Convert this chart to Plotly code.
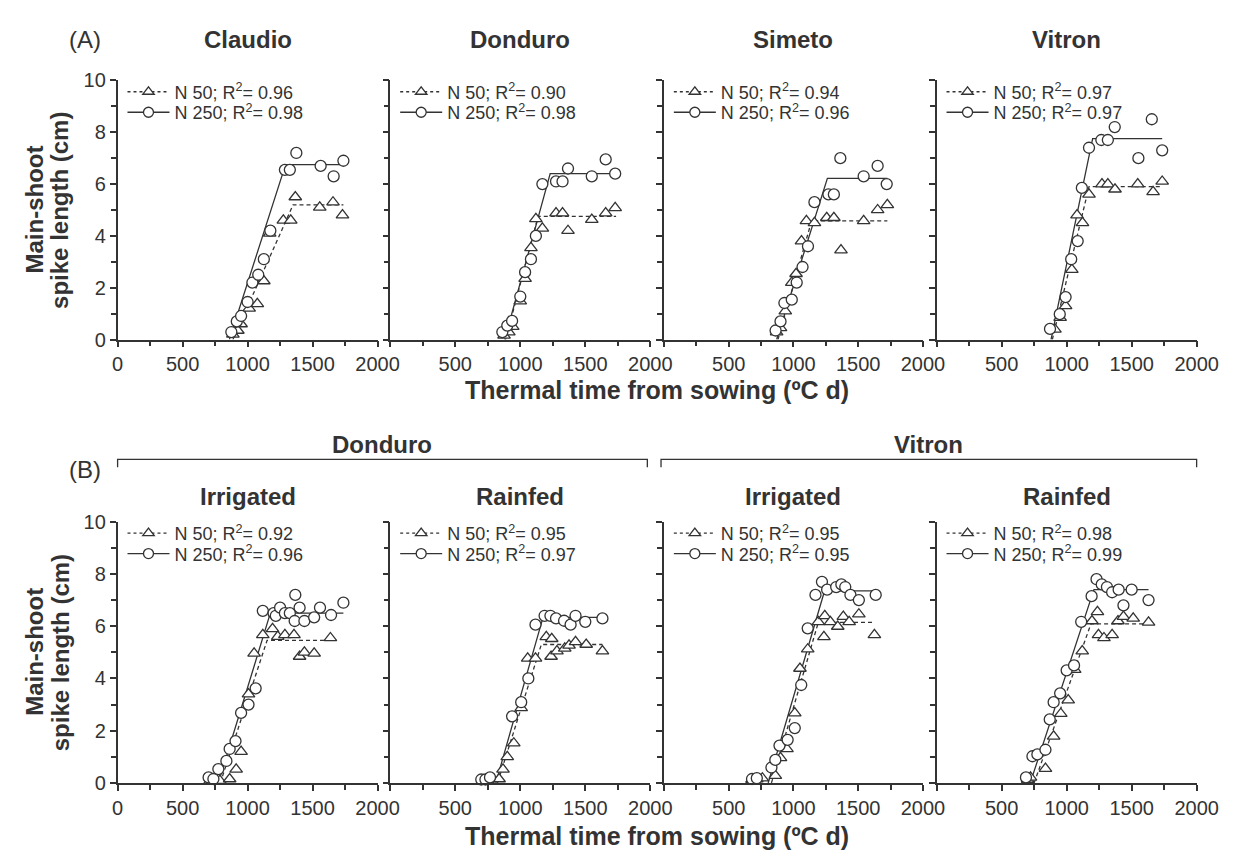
import plotly.graph_objects as go

# ---------------- data ----------------
panel_titles = ["Claudio", "Donduro", "Simeto", "Vitron",
                "Irrigated", "Rainfed", "Irrigated", "Rainfed"]
group_titles = ["Donduro", "Vitron"]
r2_n50 = ["0.96", "0.90", "0.94", "0.97", "0.92", "0.95", "0.95", "0.98"]
r2_n250 = ["0.98", "0.98", "0.96", "0.97", "0.96", "0.97", "0.95", "0.99"]
x_ticks = [0, 500, 1000, 1500, 2000]
y_ticks = [0, 2, 4, 6, 8, 10]

# (A) Claudio
claudio_n250_x = [875, 917, 950, 1000, 1037, 1082, 1125, 1175, 1287, 1325, 1375, 1562, 1662, 1737]
claudio_n250_y = [0.29, 0.70, 0.91, 1.45, 2.2, 2.5, 3.1, 4.2, 6.55, 6.55, 7.2, 6.7, 6.3, 6.9]
claudio_n50_x = [887, 925, 950, 1012, 1075, 1125, 1170, 1275, 1332, 1367, 1555, 1657, 1730]
claudio_n50_y = [0.2, 0.35, 0.6, 1.2, 1.38, 2.26, 4.1, 4.6, 4.6, 5.5, 5.1, 5.3, 4.8]
claudio_fit250_x = [860, 1292, 1737]
claudio_fit250_y = [0, 6.75, 6.75]
claudio_fit50_x = [887, 1350, 1737]
claudio_fit50_y = [0, 5.2, 5.2]

# (A) Donduro
donduro_n250_x = [862, 900, 937, 1000, 1037, 1082, 1120, 1170, 1275, 1325, 1367, 1550, 1657, 1730]
donduro_n250_y = [0.29, 0.54, 0.72, 1.66, 2.6, 3.1, 4.0, 6.0, 6.1, 6.1, 6.6, 6.3, 6.95, 6.4]
donduro_n50_x = [875, 912, 942, 1000, 1037, 1082, 1120, 1170, 1275, 1325, 1367, 1550, 1657, 1730]
donduro_n50_y = [0.16, 0.29, 0.5, 1.48, 2.35, 3.54, 4.66, 4.29, 4.88, 4.88, 4.2, 4.63, 4.88, 5.08]
donduro_fit250_x = [880, 1230, 1737]
donduro_fit250_y = [0, 6.4, 6.4]
donduro_fit50_x = [887, 1137, 1737]
donduro_fit50_y = [0, 4.75, 4.75]

# (A) Simeto
simeto_n250_x = [862, 900, 930, 987, 1025, 1070, 1112, 1162, 1270, 1312, 1362, 1542, 1650, 1720]
simeto_n250_y = [0.35, 0.7, 1.41, 1.54, 2.2, 2.8, 3.6, 5.3, 5.6, 5.6, 7.0, 6.3, 6.7, 6.0]
simeto_n50_x = [870, 900, 937, 987, 1020, 1062, 1100, 1162, 1257, 1312, 1367, 1542, 1650, 1725]
simeto_n50_y = [0.29, 0.45, 1.1, 2.2, 2.54, 3.8, 4.58, 4.5, 4.7, 4.7, 3.45, 4.58, 5.0, 5.2]
simeto_fit250_x = [870, 1262, 1725]
simeto_fit250_y = [0, 6.22, 6.22]
simeto_fit50_x = [880, 1140, 1725]
simeto_fit50_y = [0, 4.58, 4.58]

# (A) Vitron
vitron_n250_x = [872, 947, 992, 1035, 1085, 1117, 1172, 1267, 1317, 1370, 1552, 1655, 1735]
vitron_n250_y = [0.41, 0.98, 1.64, 3.1, 3.8, 5.85, 7.4, 7.7, 7.7, 8.2, 7.0, 8.5, 7.3]
vitron_n50_x = [910, 950, 992, 1040, 1080, 1122, 1172, 1272, 1317, 1372, 1547, 1665, 1735]
vitron_n50_y = [0.39, 0.85, 1.3, 2.7, 4.8, 4.5, 5.6, 6.0, 6.0, 5.8, 6.0, 5.7, 6.1]
vitron_fit250_x = [880, 1200, 1735]
vitron_fit250_y = [0, 7.75, 7.75]
vitron_fit50_x = [890, 1172, 1735]
vitron_fit50_y = [0, 5.9, 5.9]

# (B) Donduro irrigated
don_irr_n250_x = [700, 737, 775, 837, 862, 907, 950, 1007, 1062, 1117, 1200, 1217, 1250, 1287,
                  1325, 1362, 1367, 1400, 1437, 1512, 1557, 1642, 1737]
don_irr_n250_y = [0.21, 0.15, 0.53, 0.84, 1.3, 1.6, 2.68, 3.0, 3.62, 6.59, 6.5, 6.4, 6.71, 6.5,
                  6.5, 6.2, 7.2, 6.71, 6.2, 6.34, 6.71, 6.43, 6.9]
don_irr_n50_x = [712, 750, 787, 862, 912, 950, 1007, 1050, 1117, 1192, 1232, 1287, 1357, 1400,
                 1437, 1512, 1637]
don_irr_n50_y = [0.09, 0.09, 0.09, 0.15, 0.52, 1.2, 3.4, 4.96, 5.67, 5.9, 5.6, 5.67, 5.67, 4.84,
                 5.0, 4.96, 5.55]
don_irr_fit250_x = [775, 1175, 1737]
don_irr_fit250_y = [0, 6.5, 6.5]
don_irr_fit50_x = [790, 1150, 1637]
don_irr_fit50_y = [0, 5.46, 5.46]

# (B) Donduro rainfed
don_rf_n250_x = [700, 732, 767, 937, 1007, 1062, 1117, 1187, 1232, 1275, 1337, 1387, 1425, 1500, 1632]
don_rf_n250_y = [0.13, 0.13, 0.21, 2.55, 3.09, 4.0, 6.06, 6.4, 6.4, 6.3, 6.21, 6.06, 6.4, 6.17, 6.3]
don_rf_n50_x = [712, 750, 837, 867, 900, 950, 1007, 1057, 1117, 1200, 1237, 1242, 1282, 1342,
                1375, 1425, 1507, 1632]
don_rf_n50_y = [0.09, 0.13, 0.15, 0.52, 1.0, 1.52, 2.87, 4.77, 4.77, 5.59, 4.84, 5.52, 5.05, 5.15,
                5.27, 5.4, 5.3, 5.05]
don_rf_fit250_x = [812, 1175, 1632]
don_rf_fit250_y = [0, 6.34, 6.34]
don_rf_fit50_x = [825, 1162, 1632]
don_rf_fit50_y = [0, 5.3, 5.3]

# (B) Vitron irrigated
vit_irr_n250_x = [680, 717, 830, 860, 892, 955, 1010, 1060, 1110, 1170, 1220, 1260, 1330, 1370,
                  1400, 1440, 1505, 1635]
vit_irr_n250_y = [0.15, 0.18, 0.59, 0.88, 1.43, 1.65, 2.1, 3.75, 5.92, 7.2, 7.7, 7.4, 7.5, 7.6,
                  7.5, 7.2, 7.0, 7.2]
vit_irr_n50_x = [680, 717, 760, 860, 900, 950, 1010, 1050, 1110, 1192, 1235, 1242, 1285, 1342,
                 1385, 1430, 1505, 1625]
vit_irr_n50_y = [0.13, 0.15, 0.18, 0.28, 0.96, 1.3, 2.67, 4.38, 5.12, 6.17, 5.59, 6.4, 6.17, 5.99,
                 6.37, 6.17, 6.46, 5.67]
vit_irr_fit250_x = [805, 1240, 1630]
vit_irr_fit250_y = [0, 7.35, 7.35]
vit_irr_fit50_x = [830, 1192, 1630]
vit_irr_fit50_y = [0, 6.15, 6.15]

# (B) Vitron rainfed
vit_rf_n250_x = [687, 737, 775, 837, 870, 900, 950, 1000, 1057, 1112, 1192, 1230, 1270, 1310,
                 1350, 1400, 1437, 1500, 1630]
vit_rf_n250_y = [0.21, 1.02, 1.09, 1.27, 2.43, 3.09, 3.43, 4.31, 4.5, 6.17, 7.15, 7.8, 7.6, 7.5,
                 7.3, 7.4, 6.8, 7.4, 7.0]
vit_rf_n50_x = [700, 722, 837, 900, 955, 1012, 1062, 1120, 1195, 1237, 1245, 1287, 1350, 1395,
                1437, 1512, 1630]
vit_rf_n50_y = [0.13, 0.21, 0.55, 1.78, 2.65, 3.17, 4.34, 5.05, 6.2, 6.55, 5.67, 5.55, 5.67, 6.2,
                6.37, 6.3, 6.15]
vit_rf_fit250_x = [720, 1210, 1630]
vit_rf_fit250_y = [0, 7.4, 7.4]
vit_rf_fit50_x = [750, 1187, 1630]
vit_rf_fit50_y = [0, 6.09, 6.09]

series = [
    (claudio_n50_x, claudio_n50_y, claudio_n250_x, claudio_n250_y,
     claudio_fit50_x, claudio_fit50_y, claudio_fit250_x, claudio_fit250_y),
    (donduro_n50_x, donduro_n50_y, donduro_n250_x, donduro_n250_y,
     donduro_fit50_x, donduro_fit50_y, donduro_fit250_x, donduro_fit250_y),
    (simeto_n50_x, simeto_n50_y, simeto_n250_x, simeto_n250_y,
     simeto_fit50_x, simeto_fit50_y, simeto_fit250_x, simeto_fit250_y),
    (vitron_n50_x, vitron_n50_y, vitron_n250_x, vitron_n250_y,
     vitron_fit50_x, vitron_fit50_y, vitron_fit250_x, vitron_fit250_y),
    (don_irr_n50_x, don_irr_n50_y, don_irr_n250_x, don_irr_n250_y,
     don_irr_fit50_x, don_irr_fit50_y, don_irr_fit250_x, don_irr_fit250_y),
    (don_rf_n50_x, don_rf_n50_y, don_rf_n250_x, don_rf_n250_y,
     don_rf_fit50_x, don_rf_fit50_y, don_rf_fit250_x, don_rf_fit250_y),
    (vit_irr_n50_x, vit_irr_n50_y, vit_irr_n250_x, vit_irr_n250_y,
     vit_irr_fit50_x, vit_irr_fit50_y, vit_irr_fit250_x, vit_irr_fit250_y),
    (vit_rf_n50_x, vit_rf_n50_y, vit_rf_n250_x, vit_rf_n250_y,
     vit_rf_fit50_x, vit_rf_fit50_y, vit_rf_fit250_x, vit_rf_fit250_y),
]

# ---------------- layout geometry (pixels) ----------------
W, H = 1238, 858
FONT = "Liberation Sans, Arial, sans-serif"
INK = "#333333"
panel_x_px = [(106, 372), (385, 651), (665, 930), (944, 1210)]
row_y_px = [(63, 329), (516, 784)]
title_y_px = [21, 490]


def fx(p):
    return p / W


def fy(p):
    return 1 - p / H


fig = go.Figure()
layout = dict(
    width=W, height=H, margin=dict(l=0, r=0, t=0, b=0),
    paper_bgcolor="white", plot_bgcolor="white",
    font=dict(family=FONT, color=INK), showlegend=True,
)
annotations = []
shapes = []


def legend_box(xp, yp):
    return dict(x=fx(xp), y=fy(yp), xanchor="left", yanchor="top",
                bgcolor="rgba(0,0,0,0)", font=dict(family=FONT, size=18, color=INK),
                itemwidth=42, tracegroupgap=0, traceorder="normal")


for i, s in enumerate(series):
    n = i + 1
    xa = "x" if n == 1 else f"x{n}"
    ya = "y" if n == 1 else f"y{n}"
    leg_a = f"legend{2 * i + 1}" if i > 0 else "legend"
    leg_b = f"legend{2 * i + 2}"
    row, col = divmod(i, 4)
    x0p, x1p = panel_x_px[col]
    ytop, ybot = row_y_px[row]
    n50x, n50y, n250x, n250y, f50x, f50y, f250x, f250y = s

    fig.add_trace(go.Scatter(x=f50x, y=f50y, mode="lines", xaxis=xa, yaxis=ya,
                             line=dict(color=INK, width=1.3, dash="4px,3px"),
                             showlegend=False, hoverinfo="skip", cliponaxis=False))
    fig.add_trace(go.Scatter(x=f250x, y=f250y, mode="lines", xaxis=xa, yaxis=ya,
                             line=dict(color=INK, width=1.3),
                             showlegend=False, hoverinfo="skip", cliponaxis=False))
    fig.add_trace(go.Scatter(x=n50x, y=n50y, mode="markers", xaxis=xa, yaxis=ya,
                             marker=dict(symbol="triangle-up", size=11, color="white",
                                         line=dict(color=INK, width=1.3)),
                             showlegend=False, cliponaxis=False))
    fig.add_trace(go.Scatter(x=n250x, y=n250y, mode="markers", xaxis=xa, yaxis=ya,
                             marker=dict(symbol="circle", size=11, color="white",
                                         line=dict(color=INK, width=1.3)),
                             showlegend=False, cliponaxis=False))
    # legend entries (one legend box per entry for tight row spacing)
    fig.add_trace(go.Scatter(x=[None], y=[None], mode="lines+markers", xaxis=xa, yaxis=ya,
                             name=f"N 50; R<sup>2</sup>= {r2_n50[i]}", legend=leg_a,
                             line=dict(color=INK, width=1.3, dash="3px,3px"),
                             marker=dict(symbol="triangle-up", size=10, color="white",
                                         line=dict(color=INK, width=1.3))))
    fig.add_trace(go.Scatter(x=[None], y=[None], mode="lines+markers", xaxis=xa, yaxis=ya,
                             name=f"N 250; R<sup>2</sup>= {r2_n250[i]}", legend=leg_b,
                             line=dict(color=INK, width=1.3),
                             marker=dict(symbol="circle", size=10, color="white",
                                         line=dict(color=INK, width=1.3))))

    layout[leg_a] = legend_box(x0p + 5, ytop - 7)
    layout[leg_b] = legend_box(x0p + 5, ytop + 14)

    xkey = "xaxis" if n == 1 else f"xaxis{n}"
    ykey = "yaxis" if n == 1 else f"yaxis{n}"
    layout[xkey] = dict(
        domain=[fx(x0p), fx(x1p)], anchor=ya, range=[0, 2000],
        tickmode="array", tickvals=x_ticks,
        ticktext=[str(v) if (v != 0 or col == 0) else "" for v in x_ticks],
        ticks="outside", ticklen=6, tickwidth=1.5, tickcolor=INK,
        minor=dict(tickmode="array", tickvals=[250, 750, 1250, 1750], ticks="outside",
                   ticklen=5, tickwidth=1.5, tickcolor=INK),
        showline=True, linecolor=INK, linewidth=1.5, showgrid=False, zeroline=False,
        tickfont=dict(family=FONT, size=20, color=INK), fixedrange=True,
    )
    layout[ykey] = dict(
        domain=[fy(ybot), fy(ytop)], anchor=xa, range=[0, 10],
        tickmode="array", tickvals=y_ticks,
        ticktext=[str(v) if col == 0 else "" for v in y_ticks],
        ticks="outside", ticklen=6, tickwidth=1.5, tickcolor=INK,
        minor=dict(tickmode="array", tickvals=[1, 3, 5, 7, 9], ticks="outside",
                   ticklen=5, tickwidth=1.5, tickcolor=INK),
        showline=True, linecolor=INK, linewidth=1.5, showgrid=False, zeroline=False,
        tickfont=dict(family=FONT, size=20, color=INK), fixedrange=True,
    )

    # panel titles
    annotations.append(dict(text=f"<b>{panel_titles[i]}</b>", xref="paper", yref="paper",
                            x=fx((x0p + x1p) / 2), y=fy(title_y_px[row]), showarrow=False,
                            xanchor="center", yanchor="middle",
                            font=dict(family=FONT, size=24, color=INK)))

# row labels
annotations.append(dict(text="(A)", xref="paper", yref="paper", x=fx(73), y=fy(21),
                        showarrow=False, xanchor="center", yanchor="middle",
                        font=dict(family=FONT, size=24, color=INK)))
annotations.append(dict(text="(B)", xref="paper", yref="paper", x=fx(73), y=fy(462),
                        showarrow=False, xanchor="center", yanchor="middle",
                        font=dict(family=FONT, size=24, color=INK)))

# axis titles
for (ytop, ybot), xt_y in zip(row_y_px, [381, 838]):
    ymid = fy((ytop + ybot) / 2)
    annotations.append(dict(text="<b>Main-shoot</b>", xref="paper", yref="paper",
                            x=fx(21), y=ymid, showarrow=False, textangle=-90,
                            xanchor="center", yanchor="middle",
                            font=dict(family=FONT, size=24, color=INK)))
    annotations.append(dict(text="<b>spike length (cm)</b>", xref="paper", yref="paper",
                            x=fx(47), y=ymid, showarrow=False, textangle=-90,
                            xanchor="center", yanchor="middle",
                            font=dict(family=FONT, size=24, color=INK)))
    annotations.append(dict(text="<b>Thermal time from sowing (ºC d)</b>", xref="paper",
                            yref="paper", x=fx(658), y=fy(xt_y), showarrow=False,
                            xanchor="center", yanchor="middle",
                            font=dict(family=FONT, size=25, color=INK)))

# group headers in (B)
for g, (xa_px, xb_px) in zip(group_titles, [(106, 648), (662, 1210)]):
    annotations.append(dict(text=f"<b>{g}</b>", xref="paper", yref="paper",
                            x=fx((xa_px + xb_px) / 2), y=fy(437), showarrow=False,
                            xanchor="center", yanchor="middle",
                            font=dict(family=FONT, size=24, color=INK)))
    shapes.append(dict(type="path", xref="paper", yref="paper",
                       path=f"M {fx(xa_px)},{fy(460)} L {fx(xa_px)},{fy(452)} "
                            f"L {fx(xb_px)},{fy(452)} L {fx(xb_px)},{fy(460)}",
                       line=dict(color=INK, width=1.3)))

layout["annotations"] = annotations
layout["shapes"] = shapes
fig.update_layout(**layout)
fig.write_html("out.html")
